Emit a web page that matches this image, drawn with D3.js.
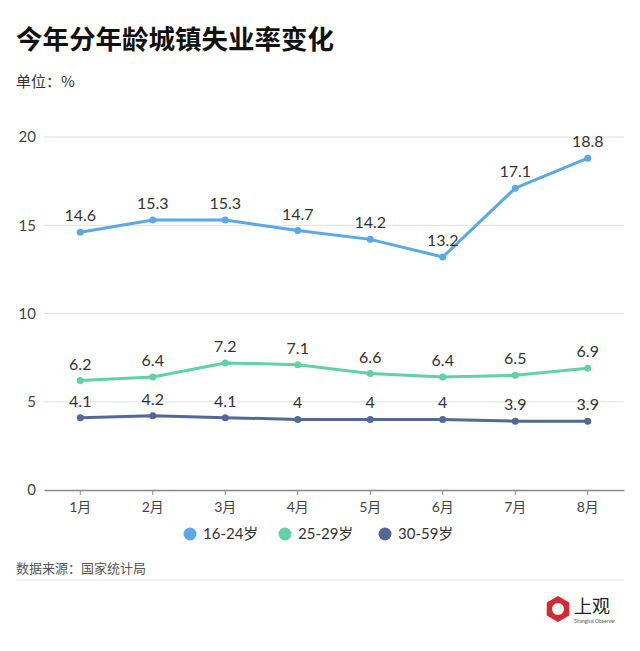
<!DOCTYPE html>
<html><head><meta charset="utf-8">
<script src="https://cdn.jsdelivr.net/npm/d3@7"></script>
<style>
body{margin:0;background:#fff;}
svg{display:block;font-family:Lato,"Noto Sans CJK SC",sans-serif;}
</style></head>
<body>
<svg id="chart" width="640" height="651"></svg>
<script>
const months = ["1月","2月","3月","4月","5月","6月","7月","8月"];
const series16_24 = [14.6,15.3,15.3,14.7,14.2,13.2,17.1,18.8];
const series25_29 = [6.2,6.4,7.2,7.1,6.6,6.4,6.5,6.9];
const series30_59 = [4.1,4.2,4.1,4,4,4,3.9,3.9];
const seriesNames = ["16-24岁","25-29岁","30-59岁"];
const seriesColors = ["#5aa9e6","#5fd3a6","#526895"];
const yTicks = [0,5,10,15,20];

const svg = d3.select("#chart");
const cjk = '"Noto Sans CJK SC",sans-serif';

svg.append("text").attr("x",16).attr("y",49).attr("font-size",26.5).attr("font-weight",700)
  .attr("font-family",cjk).attr("fill","#111").text("今年分年龄城镇失业率变化");
svg.append("text").attr("x",16).attr("y",87).attr("font-size",15)
  .attr("font-family",cjk).attr("fill","#333").text("单位：%");

const x = d3.scaleBand().domain(months).range([44,624]);
const y = d3.scaleLinear().domain([0,20]).range([490,137]);

// grid
svg.append("g").selectAll("line").data(yTicks.filter(d=>d>0)).join("line")
  .attr("x1",44).attr("x2",624).attr("y1",d=>y(d)).attr("y2",d=>y(d))
  .attr("stroke","#e0e0e0").attr("stroke-width",1);

// y labels
svg.append("g").selectAll("text").data(yTicks).join("text")
  .attr("x",36).attr("y",d=>y(d)).attr("dy","0.35em").attr("text-anchor","end")
  .attr("font-size",15).attr("fill","#444").text(d=>d);

// x axis
const xAxis = d3.axisBottom(x).tickSize(5).tickSizeOuter(0).tickPadding(7);
const gx = svg.append("g").attr("transform",`translate(0,${y(0)})`).call(xAxis);
gx.select(".domain").attr("stroke","#888").attr("stroke-width",1.5);
gx.selectAll(".tick line").attr("stroke","#888");
gx.selectAll(".tick text").attr("font-size",14).attr("fill","#444").attr("font-family",'Lato,"Noto Sans CJK SC",sans-serif');

const all = [series16_24, series25_29, series30_59];
const cx = m => x(m) + x.bandwidth()/2;
const line = d3.line().x((d,i)=>cx(months[i])).y(d=>y(d));

all.forEach((s,k)=>{
  const g = svg.append("g");
  g.append("path").datum(s).attr("d",line).attr("fill","none")
    .attr("stroke",seriesColors[k]).attr("stroke-width",3).attr("stroke-linejoin","round");
  g.selectAll("circle").data(s).join("circle")
    .attr("cx",(d,i)=>cx(months[i])).attr("cy",d=>y(d)).attr("r",3.5).attr("fill",seriesColors[k]);
  g.selectAll("text").data(s).join("text")
    .attr("x",(d,i)=>cx(months[i])).attr("y",d=>y(d)-11).attr("text-anchor","middle")
    .attr("font-size",16).attr("fill","#333").text(d=>d);
});

// legend
const legX = [190,285,385];
seriesNames.forEach((n,k)=>{
  svg.append("circle").attr("cx",legX[k]).attr("cy",534).attr("r",6.5).attr("fill",seriesColors[k]);
  svg.append("text").attr("x",legX[k]+13).attr("y",534).attr("dy","0.35em")
    .attr("font-size",15).attr("fill","#333").text(n);
});

// source
svg.append("text").attr("x",16).attr("y",573).attr("font-size",13)
  .attr("font-family",cjk).attr("fill","#555").text("数据来源：国家统计局");
svg.append("line").attr("x1",16).attr("x2",624).attr("y1",580).attr("y2",580)
  .attr("stroke","#e6e6e6").attr("stroke-width",1);

// logo
const lg = svg.append("g").attr("transform","translate(558,609)");
const hex = d3.range(6).map(i=>{const a=Math.PI/3*i+Math.PI/6; return [13*Math.cos(a),13*Math.sin(a)];});
lg.append("polygon").attr("points",hex.map(p=>p.join(",")).join(" ")).attr("fill","#d7282f");
lg.append("circle").attr("r",6).attr("fill","#fff");
lg.append("text").attr("x",16).attr("y",4).attr("font-size",18).attr("font-family",cjk)
  .attr("fill","#222").text("上观");
lg.append("text").attr("x",16).attr("y",14).attr("font-size",5).attr("font-family","Lato,sans-serif")
  .attr("fill","#555").text("Shanghai Observer");
</script>
</body></html>
